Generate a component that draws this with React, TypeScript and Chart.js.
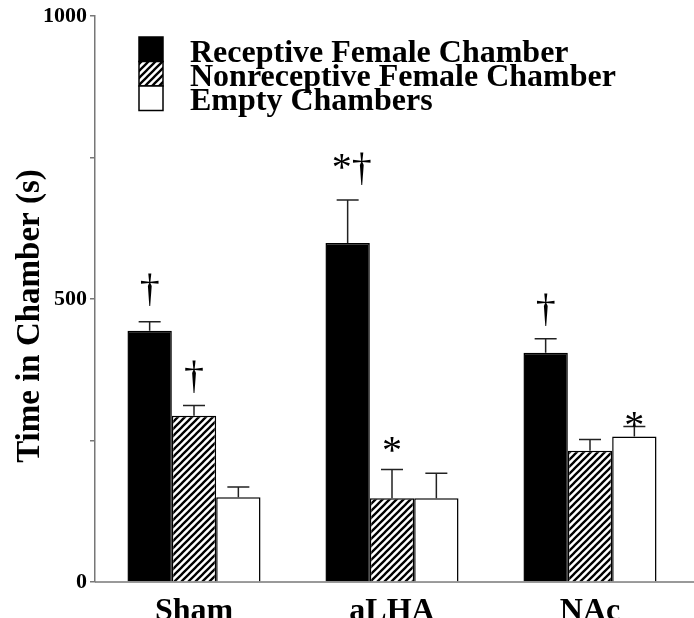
import React, { useEffect, useRef } from 'react';
import { Chart, registerables } from 'chart.js';

Chart.register(...registerables);

// ---------- data ----------
const categories = ['Sham', 'aLHA', 'NAc'];
const seriesLabels = ['Receptive Female Chamber', 'Nonreceptive Female Chamber', 'Empty Chambers'];

const receptive = [444, 599, 405];
const receptiveErr = [16, 76, 25];
const nonreceptive = [294, 148, 232];
const nonreceptiveErr = [18, 51, 20];
const empty = [150, 148, 257];
const emptyErr = [18, 44, 18];

// significance marks per series, per category
const receptiveSig = ['\u2020', '*\u2020', '\u2020'];
const nonreceptiveSig = ['\u2020', '*', ''];
const emptySig = ['', '', '*'];

const yTickLabels = ['0', '500', '1000'];
const yTitle = 'Time in Chamber (s)';

// ---------- styling ----------
const FONT = '"Liberation Serif", "Times New Roman", Times, serif';
const AXIS_COLOR = '#777';

const values = [receptive, nonreceptive, empty];
const errors = [receptiveErr, nonreceptiveErr, emptyErr];
const sigs = [receptiveSig, nonreceptiveSig, emptySig];
// pixel gap between error cap and the mark above it (style)
const sigGaps = [
  [16, 15, 13],
  [12, 17, 0],
  [0, 0, -1],
];

function makeHatch(ctx: CanvasRenderingContext2D): CanvasPattern | string {
  const s = 7;
  const c = document.createElement('canvas');
  c.width = s;
  c.height = s;
  const g = c.getContext('2d');
  if (!g) return '#888';
  g.fillStyle = '#fff';
  g.fillRect(0, 0, s, s);
  g.strokeStyle = '#000';
  g.lineWidth = 2.3;
  g.beginPath();
  g.moveTo(-1, s + 1);
  g.lineTo(s + 1, -1);
  g.moveTo(-1, 1);
  g.lineTo(1, -1);
  g.moveTo(s - 1, s + 1);
  g.lineTo(s + 1, s - 1);
  g.stroke();
  return ctx.createPattern(c, 'repeat') || '#888';
}

export default function App() {
  const canvasRef = useRef<HTMLCanvasElement | null>(null);

  useEffect(() => {
    const canvas = canvasRef.current;
    if (!canvas) return;
    const ctx0 = canvas.getContext('2d');
    if (!ctx0) return;
    const hatch = makeHatch(ctx0);
    const fills: (string | CanvasPattern)[] = ['#000', hatch, '#fff'];

    const extras = {
      id: 'extras',
      beforeDatasetsDraw(chart: any) {
        const { ctx, chartArea } = chart;
        ctx.save();
        ctx.strokeStyle = AXIS_COLOR;
        ctx.lineWidth = 1.5;
        ctx.beginPath();
        ctx.moveTo(chartArea.left, chartArea.bottom);
        ctx.lineTo(chart.width, chartArea.bottom);
        ctx.stroke();
        ctx.restore();
      },
      afterDatasetsDraw(chart: any) {
        const { ctx } = chart;
        const y = chart.scales.y;
        ctx.save();
        values.forEach((series, si) => {
          const meta = chart.getDatasetMeta(si);
          meta.data.forEach((bar: any, ci: number) => {
            const top = y.getPixelForValue(series[ci] + errors[si][ci]);
            const x = bar.x;
            ctx.strokeStyle = '#222';
            ctx.lineWidth = 1.5;
            ctx.beginPath();
            ctx.moveTo(x, bar.y);
            ctx.lineTo(x, top);
            ctx.moveTo(x - 11, top);
            ctx.lineTo(x + 11, top);
            ctx.stroke();

            const txt = sigs[si][ci];
            if (txt) {
              ctx.font = `40px ${FONT}`;
              ctx.fillStyle = '#000';
              ctx.textAlign = 'center';
              ctx.textBaseline = 'alphabetic';
              const m = ctx.measureText(txt);
              const base = top - sigGaps[si][ci] - m.actualBoundingBoxDescent;
              ctx.fillText(txt, x + (txt.length > 1 ? 4 : 0), base);
            }
          });
        });
        ctx.restore();
      },
      afterDraw(chart: any) {
        const { ctx } = chart;
        ctx.save();
        // legend
        const boxX = 139;
        const boxW = 24;
        const boxH = 24.5;
        const boxTop = 37;
        seriesLabels.forEach((lab, i) => {
          const by = boxTop + i * boxH;
          ctx.fillStyle = fills[i];
          ctx.fillRect(boxX, by, boxW, boxH);
          ctx.strokeStyle = '#000';
          ctx.lineWidth = 1.5;
          ctx.strokeRect(boxX, by, boxW, boxH);
          ctx.fillStyle = '#000';
          ctx.font = `bold 32px ${FONT}`;
          ctx.textAlign = 'left';
          ctx.textBaseline = 'alphabetic';
          ctx.fillText(lab, 190, 62 + i * 24);
        });
        // y title
        ctx.translate(30, 316);
        ctx.rotate(-Math.PI / 2);
        ctx.font = `bold 33px ${FONT}`;
        ctx.textAlign = 'center';
        ctx.textBaseline = 'middle';
        ctx.fillStyle = '#000';
        ctx.fillText(yTitle, 0, 0);
        ctx.restore();
      },
    };

    const chart = new Chart(canvas, {
      type: 'bar',
      data: {
        labels: categories,
        datasets: values.map((v, i) => ({
          label: seriesLabels[i],
          data: v,
          backgroundColor: fills[i],
          borderColor: '#000',
          borderWidth: 1.5,
          categoryPercentage: 0.672,
          barPercentage: 1,
        })),
      },
      options: {
        responsive: false,
        animation: false,
        devicePixelRatio: 1,
        layout: { padding: { top: 14, right: 5, left: 0, bottom: 0 } },
        plugins: {
          legend: { display: false },
          tooltip: { enabled: false },
        },
        scales: {
          x: {
            grid: { display: false },
            border: { display: false },
            ticks: {
              color: '#000',
              font: { family: FONT, size: 32, weight: 'bold' },
              padding: 3,
            },
            afterFit: (s: any) => {
              s.height = 36;
            },
          },
          y: {
            min: 0,
            max: 1000,
            border: { display: true, color: AXIS_COLOR, width: 1.5 },
            grid: {
              drawOnChartArea: false,
              drawTicks: true,
              tickLength: 5,
              color: AXIS_COLOR,
              lineWidth: 1.5,
            },
            ticks: {
              stepSize: 250,
              color: '#000',
              padding: 3,
              font: { family: FONT, size: 22, weight: 'bold' },
              callback: (v: any) => {
                const s = String(v);
                return yTickLabels.includes(s) ? s : '';
              },
            },
            afterFit: (s: any) => {
              s.width = 95;
            },
          },
        },
      },
      plugins: [extras],
    });

    return () => chart.destroy();
  }, []);

  return (
    <div style={{ position: 'absolute', left: 0, top: 0, width: 694, height: 618, background: '#fff' }}>
      <canvas ref={canvasRef} width={694} height={618} />
    </div>
  );
}
